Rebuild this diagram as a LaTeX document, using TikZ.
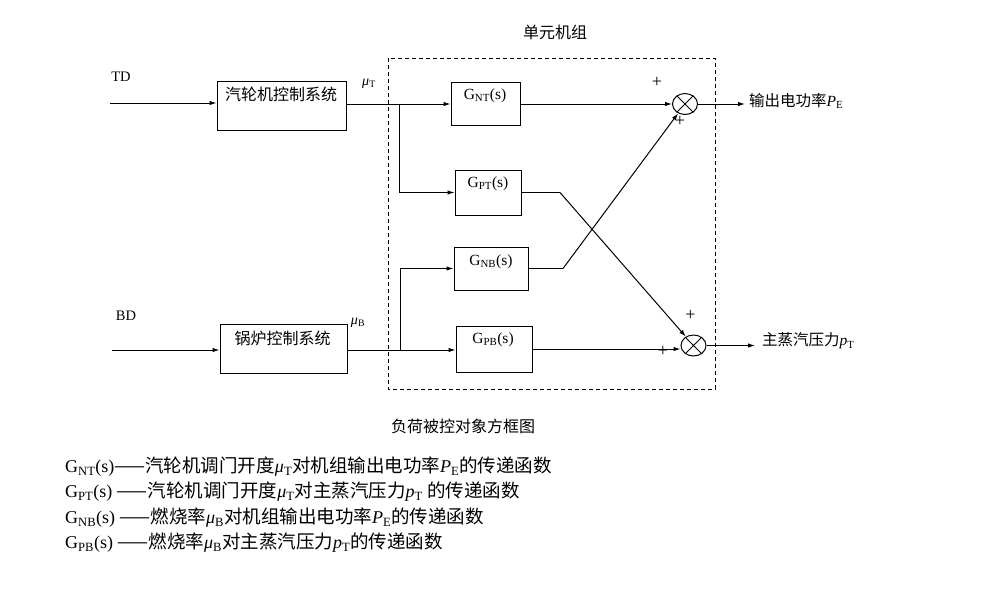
\documentclass[tikz,border=0pt]{standalone}
\usepackage{fontspec}
\setmainfont{Liberation Serif}
\newfontfamily\cjk{Noto Sans CJK SC}
\usetikzlibrary{arrows.meta,shapes.geometric}
\newcommand\zhleg[1]{{\cjk\fontsize{18.5}{22}\selectfont #1}}
\newcommand\zhout[1]{{\cjk\fontsize{15.5}{18}\selectfont #1}}
\begin{document}
\begin{tikzpicture}[x=1pt,y=-1pt]
\tikzset{
 box/.style={draw,line width=1pt,inner sep=0pt},
 ln/.style={line width=1pt},
 arr/.style={line width=1pt,-{Latex[length=7pt,width=4.5pt]}},
 sumnode/.style={draw,ellipse,line width=1pt,minimum width=25pt,minimum height=21pt,inner sep=0pt},
 zh/.style={font=\cjk\fontsize{16}{19}\selectfont,inner sep=0pt},
 lat/.style={font=\fontsize{15.5}{18}\selectfont,inner sep=0pt},
 io/.style={font=\fontsize{14.5}{17}\selectfont,inner sep=0pt},
 mu/.style={font=\fontsize{14}{16}\selectfont,inner sep=0pt},
 pl/.style={font=\fontsize{18}{20}\selectfont,inner sep=0pt},
 leg/.style={anchor=west,inner sep=0pt,font=\fontsize{18}{22}\selectfont},
 outl/.style={anchor=west,inner sep=0pt,font=\fontsize{15.5}{18}\selectfont},
 dashbox/.style={draw,line width=1pt,dash pattern=on 4pt off 3pt},
}
\useasboundingbox (0,0) rectangle (987,590);

% dashed unit box
\draw[dashbox] (388,58) rectangle (715,389);
\node[zh] (unit) at (555,32) {单元机组};

% control boxes
\node[box,minimum width=129pt,minimum height=49pt] (tbox) at (281.5,105.5) {};
\node[zh] (tboxt) at (281,94) {汽轮机控制系统};
\node[box,minimum width=127pt,minimum height=49pt] (bbox) at (283.5,348.5) {};
\node[zh] (bboxt) at (282.5,338) {锅炉控制系统};

% transfer function boxes
\node[box,minimum width=69pt,minimum height=43pt] (gnt) at (485.5,104) {};
\node[lat] (gntt) at (485,96) {G\textsubscript{NT}(s)};
\node[box,minimum width=66pt,minimum height=45pt] (gpt) at (488,192.5) {};
\node[lat] (gptt) at (488,184) {G\textsubscript{PT}(s)};
\node[box,minimum width=74pt,minimum height=43pt] (gnb) at (491,268.5) {};
\node[lat] (gnbt) at (491,262) {G\textsubscript{NB}(s)};
\node[box,minimum width=76pt,minimum height=46pt] (gpb) at (494,349) {};
\node[lat] (gpbt) at (493,340) {G\textsubscript{PB}(s)};

% summing junctions
\node[sumnode] (s1) at (685,104) {};
\draw[ln] (s1.45) -- (s1.225) (s1.135) -- (s1.315);
\node[sumnode] (s2) at (693.5,345.5) {};
\draw[ln] (s2.45) -- (s2.225) (s2.135) -- (s2.315);
\node[pl] (p1) at (657,82) {+};
\node[pl] (p2) at (680,121) {+};
\node[pl] (p3) at (690.5,315) {+};
\node[pl] (p4) at (663,351) {+};

% inputs
\node[io] (td) at (121,77) {TD};
\node[io] (bd) at (126,316) {BD};
\coordinate (tdin) at (110,103);
\coordinate (bdin) at (112,350);
\draw[arr] (tdin) -- (tbox.west |- tdin);
\draw[arr] (bdin) -- (bbox.west |- bdin);
\node[mu] (mut) at (369,84) {\textit{μ}\textsubscript{T}};
\node[mu] (mub) at (358,323) {\textit{μ}\textsubscript{B}};

% branches
\coordinate (j1) at (399,104);
\coordinate (j2) at (400,350);
\draw[ln] (tbox.east |- j1) -- (j1);
\draw[arr] (j1) -- (gnt.west |- j1);
\draw[arr] (j1) |- (gpt.west);
\draw[ln] (bbox.east |- j2) -- (j2);
\draw[arr] (j2) -- (gpb.west |- j2);
\draw[arr] (j2) |- (gnb.west);

% to summing junctions
\draw[arr] (gnt.east) -- (s1.west);
\coordinate (c1) at (560,192.5);
\coordinate (c2) at (563,268.5);
\draw[ln] (gpt.east) -- (c1);
\draw[arr] (c1) -- (s2);
\draw[ln] (gnb.east) -- (c2);
\draw[arr] (c2) -- (s1);
\draw[arr] (gpb.east) -- (gpb.east -| s2.west);

% outputs
\coordinate (o1) at (745,104);
\coordinate (o2) at (755,345.5);
\draw[arr] (s1.east) -- (o1);
\draw[arr] (s2.east) -- (o2);
\node[outl] (pe) at (749,101) {\zhout{输出电功率}\textit{P}\textsubscript{E}};
\node[outl] (ptl) at (762,341) {\zhout{主蒸汽压力}\textit{p}\textsubscript{T}};

% caption
\node[zh] (cap) at (463,426) {负荷被控对象方框图};

% legend
\node[leg] (l1) at (65,467) {G\textsubscript{NT}(s)\zhleg{——汽轮机调门开度}\textit{μ}\textsubscript{T}\zhleg{对机组输出电功率}\textit{P}\textsubscript{E}\zhleg{的传递函数}};
\node[leg] (l2) at (65,492) {G\textsubscript{PT}(s) \zhleg{——汽轮机调门开度}\textit{μ}\textsubscript{T}\zhleg{对主蒸汽压力}\textit{p}\textsubscript{T} \zhleg{的传递函数}};
\node[leg] (l3) at (65,518) {G\textsubscript{NB}(s) \zhleg{——燃烧率}\textit{μ}\textsubscript{B}\zhleg{对机组输出电功率}\textit{P}\textsubscript{E}\zhleg{的传递函数}};
\node[leg] (l4) at (65,543) {G\textsubscript{PB}(s) \zhleg{——燃烧率}\textit{μ}\textsubscript{B}\zhleg{对主蒸汽压力}\textit{p}\textsubscript{T}\zhleg{的传递函数}};
\end{tikzpicture}
\end{document}
